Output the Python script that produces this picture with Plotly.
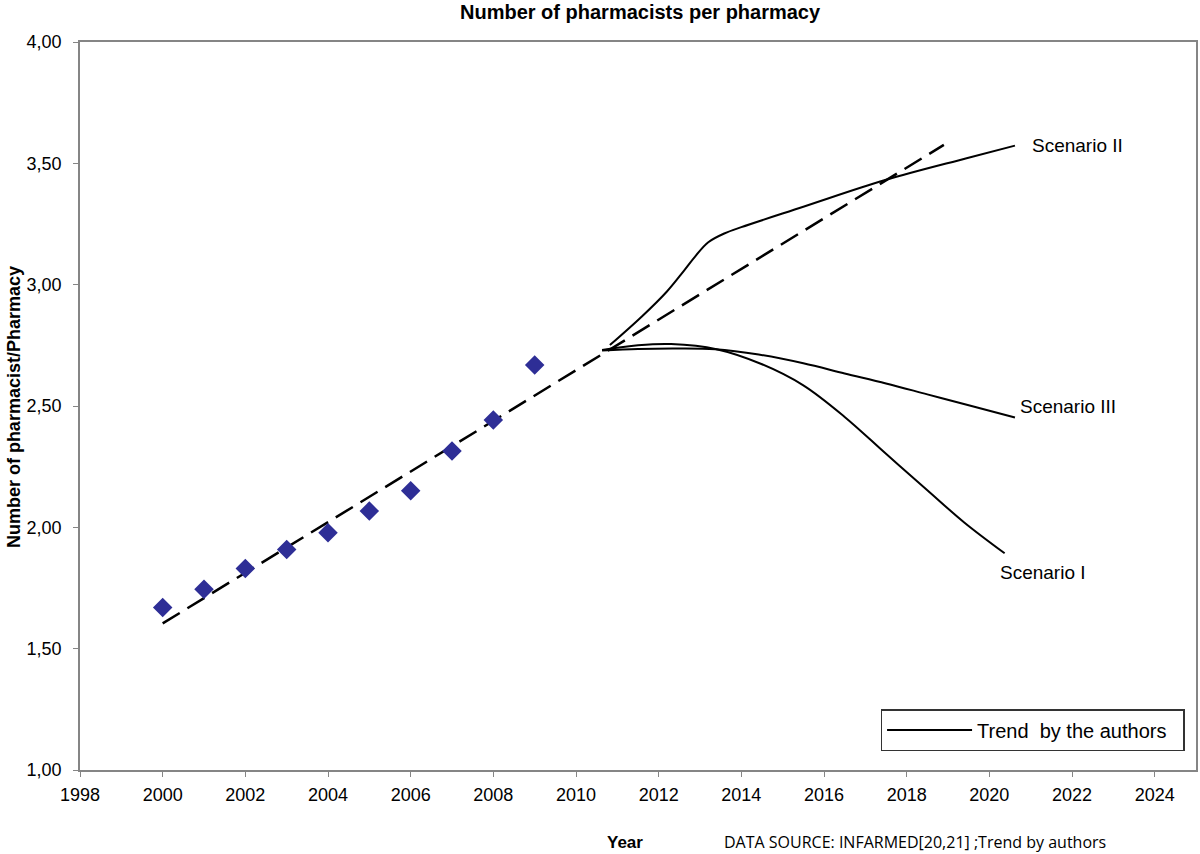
import plotly.graph_objects as go

# ---- data ----
years = [2000, 2001, 2002, 2003, 2004, 2005, 2006, 2007, 2008, 2009]
pharm_per_pharmacy = [1.670, 1.745, 1.830, 1.909, 1.978, 2.067, 2.151, 2.315, 2.442, 2.669]

trend_x = [2000, 2018.9]
trend_y = [1.604, 3.576]

s1_x = [2010.63, 2011.5, 2012.3, 2013.4, 2014.5, 2015.5, 2016.5, 2017.5, 2018.5, 2019.4, 2020.37]
s1_y = [2.731, 2.750, 2.755, 2.734, 2.672, 2.585, 2.455, 2.303, 2.153, 2.019, 1.893]

s2_x = [2010.82, 2011.6, 2012.2, 2012.6, 2012.9, 2013.2, 2013.6, 2014.0, 2015.5, 2017.48, 2019.45, 2020.62]
s2_y = [2.751, 2.870, 2.972, 3.055, 3.120, 3.175, 3.212, 3.237, 3.321, 3.431, 3.521, 3.573]

s3_x = [2010.63, 2011.5, 2012.4, 2013.37, 2014.42, 2015.5, 2016.5, 2017.5, 2018.5, 2019.5, 2020.62]
s3_y = [2.729, 2.735, 2.737, 2.734, 2.712, 2.676, 2.634, 2.593, 2.548, 2.503, 2.453]

x_ticks = list(range(1998, 2025, 2))
y_ticks = [1.0, 1.5, 2.0, 2.5, 3.0, 3.5, 4.0]
y_tick_labels = ["1,00", "1,50", "2,00", "2,50", "3,00", "3,50", "4,00"]

scenario_labels = ["Scenario II", "Scenario III", "Scenario I"]
label_x = [2020.98, 2020.70, 2020.2]
label_y = [3.573, 2.497, 1.812]

FONT = "Liberation Sans, Arial, sans-serif"

fig = go.Figure()

fig.add_trace(go.Scatter(
    x=trend_x, y=trend_y, mode="lines", showlegend=False,
    line=dict(color="black", width=2.5, dash="20px,9px"),
))
fig.add_trace(go.Scatter(
    x=s1_x, y=s1_y, mode="lines", showlegend=False,
    line=dict(color="black", width=2, shape="spline", smoothing=1),
))
fig.add_trace(go.Scatter(
    x=s3_x, y=s3_y, mode="lines", showlegend=False,
    line=dict(color="black", width=2, shape="spline", smoothing=1),
))
fig.add_trace(go.Scatter(
    x=s2_x, y=s2_y, mode="lines", name="Trend  by the authors&nbsp;&nbsp;", showlegend=True,
    line=dict(color="black", width=2, shape="spline", smoothing=1),
))
fig.add_trace(go.Scatter(
    x=years, y=pharm_per_pharmacy, mode="markers", showlegend=False,
    marker=dict(symbol="diamond", size=15, color="#2e2e96",
                line=dict(width=0)),
))

for txt, lx, ly in zip(scenario_labels, label_x, label_y):
    fig.add_annotation(x=lx, y=ly, text=txt, showarrow=False,
                       xanchor="left", yanchor="middle",
                       font=dict(family=FONT, size=19, color="black"))

# title & axis titles
fig.add_annotation(xref="paper", yref="paper", x=(642 - 80) / 1118, y=1 + (42 - 12) / 728,
                   text="<b>Number of pharmacists per pharmacy</b>", showarrow=False,
                   xanchor="center", yanchor="middle",
                   font=dict(family=FONT, size=20, color="black"))
fig.add_annotation(xref="paper", yref="paper", x=(625.5 - 80) / 1118, y=-(842 - 770) / 728,
                   text="<b>Year</b>", showarrow=False,
                   xanchor="center", yanchor="middle",
                   font=dict(family=FONT, size=17, color="black"))
fig.add_annotation(xref="paper", yref="paper", x=(723 - 80) / 1118, y=-(842 - 770) / 728,
                   text="DATA SOURCE: INFARMED[20,21] ;Trend by authors", showarrow=False,
                   xanchor="left", yanchor="middle",
                   font=dict(family="Open Sans, sans-serif", size=16, color="black"))
fig.add_annotation(xref="paper", yref="paper", x=(14 - 80) / 1118, y=(770 - 407) / 728,
                   text="<b>Number of pharmacist/Pharmacy</b>", showarrow=False,
                   textangle=-90, xanchor="center", yanchor="middle",
                   font=dict(family=FONT, size=18, color="black"))

fig.update_layout(
    width=1200, height=854,
    margin=dict(l=80, r=2, t=42, b=84),
    paper_bgcolor="white", plot_bgcolor="white",
    font=dict(family=FONT, size=18, color="black"),
    legend=dict(
        x=(882 - 80) / 1118, y=(770 - 709) / 728, xanchor="left", yanchor="top",
        bordercolor="#333333", borderwidth=1.5, bgcolor="white",
        font=dict(family=FONT, size=20, color="black"),
        itemwidth=85, tracegroupgap=0,
    ),
)
fig.update_xaxes(
    range=[1998, 2025], tickvals=x_ticks, ticktext=[str(v) for v in x_ticks],
    showgrid=False, zeroline=False, showline=True, linecolor="#858585", linewidth=1.5,
    mirror=True, ticks="outside", ticklen=5, tickcolor="#858585",
    tickfont=dict(family=FONT, size=18, color="black"), ticklabelstandoff=3,
)
fig.update_yaxes(
    range=[1, 4], tickvals=y_ticks, ticktext=y_tick_labels,
    showgrid=False, zeroline=False, showline=True, linecolor="#858585", linewidth=1.5,
    mirror=True, ticks="outside", ticklen=5, tickcolor="#858585",
    tickfont=dict(family=FONT, size=18, color="black"), ticklabelstandoff=8,
)

fig.write_html("out.html", config={"displayModeBar": False},
               post_script="document.body.style.margin='0';")
